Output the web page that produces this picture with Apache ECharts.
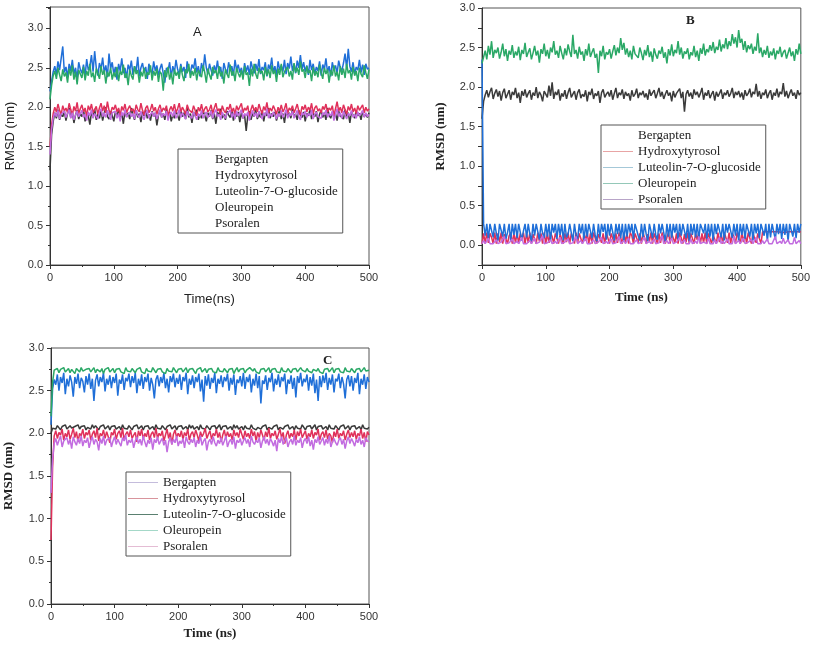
<!DOCTYPE html>
<html>
<head>
  <meta charset="UTF-8">
  <title>RMSD</title>
  <style>
    html, body { margin: 0; padding: 0; background: #fff; }
    #rmsd-chart { width: 813px; height: 648px; }
  </style>
  <script type="text/javascript" src="https://cdn.jsdelivr.net/npm/echarts@6/dist/echarts.min.js"></script>
</head>
<body>
<div id="rmsd-chart"></div>
<script>
  // time axis (ns), one sample every 2.5 ns
  var time = [0,2.5,5,7.5,10,12.5,15,17.5,20,22.5,25,27.5,30,32.5,35,37.5,40,42.5,45,47.5,
    50,52.5,55,57.5,60,62.5,65,67.5,70,72.5,75,77.5,80,82.5,85,87.5,90,92.5,95,97.5,
    100,102.5,105,107.5,110,112.5,115,117.5,120,122.5,125,127.5,130,132.5,135,137.5,140,142.5,145,147.5,
    150,152.5,155,157.5,160,162.5,165,167.5,170,172.5,175,177.5,180,182.5,185,187.5,190,192.5,195,197.5,
    200,202.5,205,207.5,210,212.5,215,217.5,220,222.5,225,227.5,230,232.5,235,237.5,240,242.5,245,247.5,
    250,252.5,255,257.5,260,262.5,265,267.5,270,272.5,275,277.5,280,282.5,285,287.5,290,292.5,295,297.5,
    300,302.5,305,307.5,310,312.5,315,317.5,320,322.5,325,327.5,330,332.5,335,337.5,340,342.5,345,347.5,
    350,352.5,355,357.5,360,362.5,365,367.5,370,372.5,375,377.5,380,382.5,385,387.5,390,392.5,395,397.5,
    400,402.5,405,407.5,410,412.5,415,417.5,420,422.5,425,427.5,430,432.5,435,437.5,440,442.5,445,447.5,
    450,452.5,455,457.5,460,462.5,465,467.5,470,472.5,475,477.5,480,482.5,485,487.5,490,492.5,495,497.5,500];

  var compounds = ['Bergapten', 'Hydroxytyrosol', 'Luteolin-7-O-glucoside', 'Oleuropein', 'Psoralen'];
  var yTicks = [0.0, 0.5, 1.0, 1.5, 2.0, 2.5, 3.0];

  // ---- panel A ----
  var aBergapten = [1.20,1.65,1.82,1.93,1.86,1.97,1.84,1.91,1.88,1.95,
    1.83,1.92,1.99,1.87,1.94,1.80,1.90,1.96,1.85,1.92,
    1.88,1.97,1.82,1.93,1.89,1.78,1.94,1.87,1.98,1.84,
    1.91,1.86,1.96,1.83,1.92,2.00,1.88,1.85,1.95,1.90,
    1.82,1.94,1.89,1.97,1.86,1.92,1.79,1.95,1.88,1.93,
    1.85,1.99,1.90,1.84,1.96,1.87,1.92,1.81,1.94,1.89,
    1.97,1.86,1.91,1.83,1.95,1.88,1.93,1.77,1.90,1.96,
    1.87,1.92,1.84,1.98,1.89,1.94,1.82,1.91,1.86,1.95,
    1.90,1.83,1.96,1.88,1.93,1.85,1.99,1.87,1.92,1.80,
    1.94,1.89,1.97,1.84,1.91,1.86,1.95,1.90,1.82,1.93,
    1.88,1.96,1.85,1.92,1.79,1.94,1.89,1.98,1.86,1.91,
    1.84,1.95,1.90,1.87,1.97,1.83,1.92,1.88,1.94,1.81,
    1.93,1.86,1.90,1.70,1.89,1.95,1.84,1.92,1.88,1.97,
    1.85,1.91,1.87,1.96,1.82,1.93,1.89,1.99,1.86,1.92,
    1.88,1.94,1.83,1.90,1.97,1.85,1.92,1.80,1.95,1.89,
    1.93,1.86,1.98,1.88,1.91,1.84,1.96,1.90,1.87,1.94,
    1.82,1.92,1.89,1.97,1.85,1.93,1.88,1.95,1.81,1.91,
    1.96,1.87,1.93,1.84,1.99,1.90,1.86,1.94,1.88,1.92,
    1.83,1.95,1.89,1.91,1.85,1.97,1.88,1.93,1.80,1.94,
    1.90,1.86,1.96,1.89,1.92,1.84,1.95,1.88,1.91,1.87,1.93];
  var aHydroxytyrosol = [1.50,1.78,1.92,2.00,1.94,2.04,1.96,1.91,2.02,1.95,
    1.99,1.93,2.05,1.97,1.90,2.01,1.95,2.06,1.92,1.98,
    2.03,1.94,1.99,1.88,2.02,1.96,2.04,1.93,1.97,2.01,
    1.91,1.99,2.05,1.95,2.02,1.93,2.07,1.96,1.92,2.00,
    1.97,2.03,1.94,1.99,1.89,2.01,1.96,2.04,1.93,1.98,
    2.02,1.95,1.98,1.92,2.03,1.97,1.94,2.05,1.96,1.90,
    1.99,2.02,1.93,1.97,2.04,1.95,2.00,1.91,1.98,2.03,
    1.94,1.99,1.96,2.02,1.88,1.97,2.01,1.95,2.04,1.93,
    1.98,2.05,1.94,2.00,1.96,1.91,2.03,1.97,1.99,1.93,
    2.02,1.96,1.89,2.00,1.95,2.04,1.93,1.98,2.01,1.94,
    1.97,2.03,1.92,1.99,2.05,1.95,1.98,1.90,2.02,1.96,
    1.93,2.00,1.97,2.04,1.94,1.99,1.91,2.02,1.96,1.98,
    2.05,1.93,1.99,1.96,2.02,1.88,1.97,2.03,1.95,2.00,
    1.94,2.04,1.97,1.92,2.01,1.96,2.06,1.93,1.99,1.95,
    2.02,1.97,1.91,2.00,1.95,2.03,1.94,1.98,2.05,1.92,
    1.99,1.96,2.02,1.93,1.98,2.04,1.95,1.90,2.01,1.97,
    2.03,1.94,2.00,1.96,2.05,1.92,1.99,2.02,1.95,1.98,
    1.93,2.01,1.97,2.04,1.94,1.99,1.96,2.02,1.89,1.98,
    2.07,1.95,2.00,1.93,2.03,1.97,1.91,2.01,1.96,2.04,
    1.94,1.99,1.92,2.02,1.96,1.98,2.03,1.93,2.00,1.95,1.98];
  var aLuteolin = [2.20,2.33,2.45,2.52,2.41,2.58,2.47,2.62,2.77,2.44,
    2.51,2.38,2.55,2.46,2.60,2.42,2.50,2.36,2.57,2.48,
    2.43,2.54,2.39,2.61,2.47,2.52,2.66,2.45,2.71,2.50,
    2.40,2.56,2.48,2.63,2.44,2.53,2.38,2.68,2.49,2.57,
    2.42,2.51,2.35,2.55,2.46,2.62,2.43,2.50,2.37,2.54,
    2.47,2.59,2.41,2.52,2.45,2.64,2.39,2.50,2.56,2.44,
    2.51,2.36,2.55,2.47,2.42,2.58,2.46,2.53,2.40,2.49,
    2.55,2.43,2.31,2.50,2.46,2.57,2.38,2.52,2.44,2.60,
    2.48,2.41,2.55,2.45,2.51,2.37,2.58,2.47,2.43,2.54,
    2.49,2.62,2.44,2.52,2.39,2.56,2.46,2.67,2.50,2.42,
    2.55,2.47,2.40,2.53,2.45,2.59,2.43,2.51,2.36,2.56,
    2.48,2.42,2.57,2.46,2.52,2.40,2.60,2.47,2.54,2.44,
    2.50,2.38,2.56,2.45,2.53,2.41,2.58,2.49,2.43,2.55,
    2.46,2.61,2.42,2.51,2.47,2.57,2.39,2.54,2.48,2.63,
    2.44,2.52,2.40,2.58,2.47,2.53,2.45,2.60,2.42,2.56,
    2.49,2.64,2.46,2.55,2.43,2.59,2.50,2.66,2.48,2.57,
    2.45,2.53,2.41,2.60,2.47,2.55,2.42,2.51,2.46,2.58,
    2.40,2.54,2.48,2.62,2.44,2.52,2.39,2.57,2.47,2.53,
    2.43,2.59,2.50,2.46,2.56,2.68,2.49,2.74,2.52,2.45,
    2.57,2.42,2.51,2.47,2.60,2.44,2.54,2.41,2.55,2.48,2.50];
  var aOleuropein = [2.10,2.28,2.40,2.46,2.36,2.50,2.41,2.33,2.48,2.39,
    2.44,2.31,2.49,2.40,2.53,2.35,2.45,2.29,2.47,2.42,
    2.37,2.51,2.34,2.46,2.40,2.55,2.38,2.44,2.32,2.49,
    2.43,2.36,2.52,2.41,2.47,2.30,2.45,2.39,2.50,2.35,
    2.44,2.38,2.51,2.33,2.46,2.41,2.54,2.37,2.43,2.28,
    2.48,2.40,2.35,2.52,2.42,2.47,2.31,2.45,2.39,2.50,
    2.36,2.44,2.41,2.53,2.34,2.46,2.40,2.49,2.32,2.45,
    2.42,2.21,2.47,2.38,2.51,2.35,2.44,2.29,2.48,2.40,
    2.45,2.36,2.52,2.41,2.33,2.48,2.43,2.55,2.37,2.46,
    2.40,2.50,2.34,2.47,2.42,2.38,2.53,2.44,2.31,2.49,
    2.41,2.35,2.51,2.43,2.47,2.36,2.52,2.39,2.45,2.30,
    2.48,2.42,2.37,2.54,2.40,2.46,2.33,2.50,2.43,2.38,
    2.47,2.35,2.52,2.41,2.44,2.27,2.49,2.39,2.55,2.42,
    2.36,2.50,2.43,2.46,2.34,2.51,2.40,2.48,2.37,2.53,
    2.42,2.47,2.32,2.49,2.41,2.55,2.38,2.45,2.43,2.51,
    2.39,2.46,2.35,2.56,2.44,2.50,2.41,2.58,2.45,2.48,
    2.37,2.52,2.43,2.47,2.33,2.51,2.40,2.46,2.38,2.54,
    2.44,2.36,2.50,2.42,2.48,2.31,2.47,2.40,2.53,2.39,
    2.45,2.34,2.52,2.41,2.49,2.37,2.55,2.43,2.47,2.35,
    2.51,2.40,2.46,2.33,2.50,2.42,2.38,2.53,2.44,2.36,2.48];
  var aPsoralen = [1.40,1.72,1.86,1.93,1.88,1.96,1.85,1.91,1.89,1.95,
    1.87,1.92,1.97,1.86,1.93,1.84,1.90,1.95,1.88,1.92,
    1.96,1.87,1.91,1.83,1.94,1.89,1.97,1.86,1.92,1.90,
    1.85,1.94,1.98,1.88,1.93,1.87,1.96,1.90,1.84,1.93,
    1.91,1.95,1.86,1.92,1.82,1.94,1.89,1.97,1.87,1.91,
    1.94,1.88,1.92,1.85,1.96,1.90,1.87,1.95,1.89,1.84,
    1.92,1.96,1.86,1.91,1.94,1.88,1.93,1.85,1.90,1.97,
    1.87,1.92,1.89,1.95,1.83,1.91,1.94,1.88,1.96,1.86,
    1.90,1.97,1.87,1.93,1.89,1.85,1.95,1.90,1.92,1.86,
    1.94,1.89,1.84,1.92,1.88,1.96,1.86,1.91,1.94,1.87,
    1.90,1.95,1.86,1.93,1.97,1.88,1.91,1.84,1.94,1.89,
    1.86,1.92,1.90,1.96,1.87,1.93,1.85,1.95,1.89,1.91,
    1.97,1.86,1.92,1.89,1.94,1.83,1.90,1.96,1.88,1.93,
    1.87,1.95,1.90,1.85,1.93,1.89,1.98,1.86,1.92,1.88,
    1.94,1.90,1.85,1.92,1.88,1.96,1.87,1.91,1.97,1.86,
    1.92,1.89,1.95,1.86,1.91,1.96,1.88,1.84,1.93,1.90,
    1.95,1.87,1.92,1.89,1.97,1.85,1.91,1.94,1.88,1.90,
    1.86,1.93,1.90,1.96,1.87,1.92,1.89,1.95,1.83,1.91,
    1.98,1.88,1.93,1.86,1.95,1.90,1.85,1.92,1.89,1.96,
    1.87,1.91,1.86,1.94,1.89,1.92,1.96,1.87,1.93,1.88,1.91];

  // ---- panel B ----
  var bBergapten = [1.60,1.82,1.90,1.96,1.87,1.94,1.99,1.85,1.92,1.97,
    1.88,1.95,1.83,1.93,1.98,1.86,1.91,1.96,1.84,1.94,
    1.90,1.99,1.86,1.93,1.80,1.95,1.89,1.97,1.87,1.92,
    1.96,1.84,1.93,1.89,2.00,1.86,1.94,1.90,1.82,1.95,
    1.91,1.87,2.02,1.89,2.06,1.85,1.94,1.90,1.97,1.83,
    1.92,1.88,1.96,1.85,1.93,1.99,1.87,1.91,1.95,1.84,
    1.93,1.97,1.86,1.91,1.88,1.96,1.82,1.94,1.90,1.98,
    1.85,1.92,1.89,1.95,1.80,1.93,1.97,1.87,1.91,1.94,
    1.88,1.96,1.84,1.92,1.99,1.86,1.93,1.90,1.97,1.85,
    1.94,1.89,1.92,1.83,1.96,1.88,1.91,1.98,1.86,1.93,
    1.90,1.95,1.87,1.92,1.84,1.97,1.89,1.93,1.96,1.86,
    1.92,1.99,1.88,1.94,1.85,1.91,1.96,1.89,1.93,1.82,
    1.95,1.87,1.92,1.90,1.98,1.86,1.94,1.69,1.91,1.96,
    1.88,1.93,1.85,1.97,1.90,1.94,1.87,1.92,1.99,1.84,
    1.93,1.89,1.96,1.86,1.91,1.95,1.83,1.94,1.88,1.92,
    1.97,1.85,1.93,1.90,1.96,1.88,1.92,1.99,1.86,1.94,
    1.90,1.95,1.87,1.93,1.84,1.96,1.89,1.92,1.98,1.87,
    1.94,1.91,2.04,1.88,1.95,1.85,1.93,1.90,1.97,1.86,
    1.92,1.96,1.84,1.93,1.89,1.98,1.87,1.94,1.91,2.05,
    1.88,1.95,1.86,1.92,1.97,1.89,1.93,1.85,1.96,1.90,1.93];
  var bHydroxytyrosol = [0.02,0.15,0.02,0.16,0.03,0.15,0.10,0.02,0.16,0.02,
    0.15,0.04,0.16,0.02,0.14,0.15,0.02,0.12,0.16,0.02,
    0.15,0.03,0.16,0.02,0.15,0.08,0.16,0.02,0.15,0.03,
    0.16,0.02,0.14,0.15,0.02,0.16,0.05,0.15,0.02,0.16,
    0.02,0.15,0.03,0.16,0.11,0.02,0.15,0.16,0.02,0.14,
    0.16,0.02,0.15,0.04,0.16,0.02,0.15,0.13,0.02,0.16,
    0.03,0.15,0.16,0.02,0.15,0.06,0.16,0.02,0.15,0.02,
    0.16,0.15,0.02,0.14,0.16,0.03,0.15,0.02,0.16,0.09,
    0.02,0.15,0.16,0.02,0.15,0.03,0.16,0.15,0.02,0.16,
    0.04,0.15,0.02,0.16,0.12,0.02,0.15,0.16,0.03,0.15,
    0.02,0.16,0.15,0.02,0.14,0.05,0.16,0.02,0.15,0.16,
    0.02,0.15,0.03,0.16,0.15,0.02,0.10,0.16,0.02,0.15,
    0.16,0.03,0.15,0.02,0.16,0.15,0.02,0.14,0.04,0.16,
    0.02,0.15,0.16,0.02,0.15,0.07,0.16,0.02,0.15,0.03,
    0.16,0.02,0.15,0.16,0.02,0.13,0.15,0.02,0.16,0.04,
    0.15,0.02,0.16,0.15,0.03,0.16,0.02,0.15,0.11,0.02,
    0.16,0.15,0.02,0.16,0.04,0.15,0.02,0.16,0.15,0.02,
    0.15,0.16,0.03,0.15,0.16,0.02,0.17,0.16,0.17,0.16,
    0.17,0.16,0.17,0.15,0.17,0.16,0.17,0.17,0.16,0.17,
    0.16,0.17,0.17,0.16,0.17,0.15,0.17,0.16,0.17,0.17,0.17];
  var bLuteolin = [2.35,0.27,0.12,0.27,0.08,0.27,0.26,0.10,0.27,0.15,
    0.06,0.27,0.27,0.11,0.27,0.08,0.16,0.27,0.05,0.27,
    0.13,0.27,0.09,0.27,0.27,0.06,0.18,0.27,0.10,0.27,
    0.14,0.05,0.27,0.12,0.27,0.27,0.07,0.27,0.15,0.09,
    0.27,0.11,0.27,0.05,0.27,0.16,0.27,0.08,0.27,0.13,
    0.27,0.06,0.27,0.10,0.14,0.27,0.27,0.05,0.27,0.12,
    0.08,0.27,0.15,0.27,0.06,0.27,0.11,0.27,0.27,0.09,
    0.27,0.13,0.05,0.27,0.10,0.27,0.17,0.27,0.07,0.27,
    0.12,0.27,0.27,0.06,0.27,0.14,0.27,0.09,0.27,0.05,
    0.27,0.11,0.27,0.16,0.27,0.08,0.27,0.27,0.12,0.06,
    0.27,0.10,0.27,0.14,0.05,0.27,0.27,0.09,0.27,0.13,
    0.07,0.27,0.15,0.27,0.27,0.05,0.27,0.11,0.27,0.08,
    0.27,0.16,0.27,0.06,0.27,0.12,0.27,0.27,0.09,0.27,
    0.05,0.27,0.13,0.27,0.10,0.27,0.07,0.27,0.27,0.15,
    0.27,0.08,0.27,0.11,0.27,0.05,0.27,0.14,0.27,0.27,
    0.10,0.27,0.06,0.27,0.16,0.27,0.27,0.09,0.27,0.12,
    0.27,0.05,0.27,0.13,0.27,0.08,0.27,0.27,0.11,0.27,
    0.06,0.27,0.15,0.27,0.09,0.27,0.27,0.12,0.27,0.05,
    0.27,0.10,0.27,0.27,0.07,0.27,0.14,0.27,0.08,0.27,
    0.13,0.27,0.05,0.27,0.27,0.11,0.27,0.09,0.27,0.16,0.27];
  var bOleuropein = [2.30,2.38,2.46,2.35,2.52,2.41,2.58,2.37,2.47,2.43,
    2.50,2.36,2.44,2.55,2.39,2.48,2.33,2.46,2.41,2.53,
    2.37,2.45,2.40,2.51,2.34,2.47,2.42,2.56,2.38,2.44,
    2.49,2.35,2.43,2.52,2.40,2.46,2.31,2.48,2.42,2.55,
    2.39,2.47,2.36,2.50,2.44,2.58,2.41,2.46,2.37,2.52,
    2.43,2.35,2.49,2.40,2.54,2.45,2.38,2.66,2.42,2.47,
    2.36,2.51,2.41,2.45,2.33,2.48,2.40,2.55,2.38,2.44,
    2.49,2.37,2.42,2.18,2.46,2.39,2.52,2.35,2.44,2.41,
    2.48,2.36,2.45,2.53,2.40,2.50,2.43,2.62,2.47,2.56,
    2.41,2.49,2.38,2.46,2.35,2.52,2.42,2.44,2.37,2.50,
    2.43,2.34,2.47,2.40,2.53,2.38,2.45,2.32,2.49,2.41,
    2.36,2.46,2.42,2.51,2.37,2.44,2.30,2.48,2.40,2.54,
    2.39,2.47,2.43,2.58,2.41,2.50,2.36,2.45,2.42,2.49,
    2.35,2.44,2.40,2.52,2.38,2.46,2.33,2.49,2.42,2.55,
    2.40,2.48,2.44,2.53,2.46,2.57,2.43,2.51,2.47,2.60,
    2.45,2.54,2.49,2.62,2.48,2.58,2.52,2.67,2.55,2.63,
    2.50,2.72,2.56,2.61,2.47,2.58,2.44,2.53,2.48,2.55,
    2.42,2.51,2.46,2.68,2.43,2.50,2.38,2.47,2.41,2.52,
    2.37,2.45,2.40,2.49,2.35,2.46,2.42,2.51,2.38,2.44,
    2.47,2.36,2.43,2.50,2.39,2.45,2.33,2.48,2.41,2.55,2.42];
  var bPsoralen = [0.02,0.06,0.02,0.02,0.09,0.02,0.03,0.02,0.02,0.07,
    0.02,0.02,0.04,0.02,0.11,0.02,0.02,0.03,0.02,0.08,
    0.02,0.02,0.05,0.02,0.02,0.10,0.02,0.03,0.02,0.02,
    0.06,0.02,0.02,0.09,0.02,0.02,0.04,0.02,0.12,0.02,
    0.02,0.03,0.02,0.07,0.02,0.02,0.05,0.02,0.02,0.10,
    0.02,0.02,0.04,0.02,0.08,0.02,0.02,0.03,0.02,0.11,
    0.02,0.02,0.06,0.02,0.02,0.09,0.02,0.03,0.02,0.02,
    0.07,0.02,0.02,0.04,0.02,0.10,0.02,0.02,0.05,0.02,
    0.02,0.08,0.02,0.02,0.03,0.02,0.11,0.02,0.02,0.06,
    0.02,0.02,0.09,0.02,0.03,0.02,0.02,0.07,0.02,0.02,
    0.04,0.02,0.10,0.02,0.02,0.05,0.02,0.02,0.08,0.02,
    0.02,0.03,0.02,0.12,0.02,0.02,0.06,0.02,0.02,0.09,
    0.02,0.02,0.04,0.02,0.10,0.02,0.02,0.07,0.02,0.03,
    0.02,0.08,0.02,0.02,0.05,0.02,0.11,0.02,0.02,0.04,
    0.02,0.02,0.09,0.02,0.03,0.02,0.07,0.02,0.02,0.10,
    0.02,0.05,0.02,0.02,0.08,0.02,0.03,0.02,0.11,0.02,
    0.02,0.06,0.02,0.02,0.09,0.02,0.02,0.04,0.02,0.07,
    0.02,0.02,0.10,0.02,0.03,0.02,0.06,0.02,0.02,0.08,
    0.02,0.04,0.02,0.02,0.11,0.02,0.02,0.05,0.02,0.09,
    0.02,0.02,0.07,0.02,0.03,0.02,0.10,0.02,0.02,0.06,0.02];

  // ---- panel C ----
  var cBergapten = [2.00,2.06,2.08,2.05,2.09,2.07,2.04,2.08,2.06,2.10,
    2.05,2.07,2.09,2.06,2.04,2.08,2.07,2.10,2.05,2.08,
    2.06,2.09,2.04,2.07,2.08,2.05,2.10,2.06,2.09,2.07,
    2.04,2.08,2.06,2.10,2.05,2.07,2.09,2.04,2.08,2.06,
    2.09,2.05,2.07,2.08,2.04,2.10,2.06,2.08,2.05,2.09,
    2.07,2.04,2.08,2.06,2.10,2.05,2.07,2.09,2.04,2.08,
    2.06,2.09,2.05,2.07,2.08,2.04,2.10,2.06,2.08,2.05,
    2.09,2.07,2.04,2.08,2.06,2.10,2.05,2.07,2.09,2.04,
    2.08,2.06,2.09,2.05,2.07,2.08,2.04,2.10,2.06,2.09,
    2.05,2.07,2.08,2.04,2.10,2.06,2.08,2.05,2.09,2.07,
    2.04,2.08,2.06,2.09,2.05,2.07,2.10,2.04,2.08,2.06,
    2.09,2.05,2.07,2.08,2.04,2.10,2.06,2.09,2.05,2.07,
    2.08,2.04,2.09,2.06,2.07,2.05,2.10,2.06,2.08,2.04,
    2.07,2.09,2.05,2.08,2.06,2.10,2.04,2.07,2.09,2.05,
    2.08,2.06,2.10,2.04,2.07,2.09,2.05,2.08,2.06,2.10,
    2.05,2.07,2.08,2.04,2.09,2.06,2.08,2.05,2.10,2.07,
    2.04,2.08,2.06,2.09,2.05,2.07,2.10,2.04,2.08,2.06,
    2.09,2.05,2.07,2.08,2.04,2.10,2.06,2.08,2.05,2.09,
    2.07,2.04,2.08,2.06,2.10,2.05,2.07,2.09,2.04,2.08,
    2.06,2.09,2.05,2.07,2.08,2.04,2.10,2.06,2.08,2.05,2.07];
  var cHydroxytyrosol = [0.75,1.60,1.97,2.03,1.94,2.01,1.98,2.05,1.92,2.00,
    1.96,2.04,1.93,1.99,2.06,1.95,2.02,1.90,2.00,1.97,
    2.05,1.94,2.01,1.98,2.04,1.92,1.99,2.03,1.95,2.06,
    1.91,2.00,1.97,2.04,1.94,2.02,1.96,1.89,2.01,1.98,
    2.05,1.93,2.00,2.03,1.95,2.06,1.92,1.99,2.02,1.96,
    2.04,1.94,1.98,2.01,1.90,2.03,1.97,2.05,1.93,2.00,
    1.96,2.04,1.92,1.99,2.02,1.95,2.06,1.94,2.00,1.97,
    2.03,1.91,1.98,2.05,1.94,2.01,1.87,1.99,2.04,1.95,
    2.00,1.96,2.03,1.93,2.01,1.97,2.05,1.92,1.99,2.02,
    1.95,2.04,1.98,1.91,2.02,1.96,2.00,2.06,1.94,1.99,
    2.03,1.93,2.00,1.97,2.05,1.95,2.01,1.90,1.98,2.04,
    1.94,2.02,1.96,2.00,1.92,2.04,1.97,2.01,1.95,2.05,
    1.99,1.93,2.03,1.96,2.00,1.94,2.05,1.97,2.02,1.91,
    2.01,1.95,2.04,1.98,1.92,2.02,1.96,2.06,1.94,2.00,
    1.97,2.03,1.93,1.99,2.05,1.95,2.01,1.88,1.98,2.03,
    1.94,2.00,1.96,2.04,1.92,2.02,1.97,2.05,1.95,1.99,
    2.03,1.93,2.00,1.96,2.04,1.94,2.01,1.98,2.05,1.92,
    1.99,2.02,1.95,2.04,1.93,2.00,1.97,1.89,2.02,1.96,
    2.05,1.94,2.00,1.97,2.03,1.92,1.99,2.04,1.95,2.01,
    1.96,2.03,1.93,2.00,1.97,2.05,1.94,2.01,1.90,2.02,1.98];
  var cLuteolin = [2.10,2.52,2.63,2.57,2.69,2.50,2.66,2.59,2.71,2.46,
    2.64,2.55,2.68,2.60,2.43,2.66,2.58,2.70,2.53,2.65,
    2.61,2.48,2.67,2.57,2.70,2.52,2.64,2.38,2.62,2.69,
    2.55,2.66,2.60,2.71,2.49,2.64,2.57,2.68,2.53,2.66,
    2.59,2.70,2.44,2.63,2.58,2.69,2.51,2.65,2.61,2.70,
    2.54,2.67,2.59,2.71,2.47,2.64,2.56,2.69,2.52,2.66,
    2.60,2.70,2.50,2.65,2.57,2.41,2.63,2.68,2.55,2.66,
    2.59,2.71,2.53,2.64,2.48,2.67,2.60,2.70,2.54,2.65,
    2.58,2.69,2.51,2.66,2.61,2.71,2.46,2.64,2.57,2.68,
    2.53,2.66,2.60,2.70,2.49,2.63,2.37,2.67,2.56,2.69,
    2.52,2.65,2.59,2.71,2.47,2.64,2.58,2.68,2.54,2.66,
    2.61,2.70,2.50,2.65,2.57,2.69,2.45,2.63,2.59,2.67,
    2.55,2.71,2.52,2.66,2.60,2.69,2.48,2.64,2.56,2.70,
    2.53,2.67,2.35,2.62,2.58,2.68,2.51,2.65,2.60,2.71,
    2.49,2.64,2.57,2.69,2.54,2.66,2.61,2.70,2.46,2.63,
    2.58,2.68,2.52,2.65,2.42,2.67,2.59,2.71,2.55,2.64,
    2.60,2.69,2.50,2.66,2.56,2.70,2.47,2.63,2.38,2.67,
    2.54,2.68,2.59,2.71,2.51,2.65,2.57,2.69,2.48,2.64,
    2.61,2.70,2.53,2.66,2.58,2.41,2.63,2.68,2.55,2.67,
    2.50,2.65,2.59,2.71,2.46,2.64,2.57,2.69,2.52,2.66,2.60];
  var cOleuropein = [2.20,2.60,2.74,2.72,2.76,2.71,2.75,2.73,2.77,2.72,
    2.74,2.76,2.71,2.75,2.73,2.70,2.76,2.74,2.72,2.77,
    2.73,2.71,2.75,2.74,2.76,2.72,2.73,2.77,2.71,2.75,
    2.74,2.72,2.76,2.70,2.75,2.73,2.77,2.72,2.74,2.76,
    2.71,2.75,2.73,2.76,2.72,2.74,2.70,2.77,2.73,2.75,
    2.72,2.76,2.74,2.71,2.75,2.73,2.77,2.72,2.74,2.70,
    2.76,2.73,2.75,2.72,2.77,2.74,2.71,2.75,2.73,2.76,
    2.72,2.74,2.70,2.76,2.73,2.75,2.72,2.77,2.74,2.71,
    2.75,2.73,2.76,2.72,2.74,2.77,2.71,2.75,2.73,2.76,
    2.74,2.70,2.75,2.73,2.77,2.72,2.74,2.76,2.71,2.75,
    2.73,2.76,2.72,2.74,2.71,2.77,2.73,2.75,2.72,2.76,
    2.74,2.71,2.75,2.73,2.76,2.70,2.74,2.77,2.72,2.75,
    2.73,2.76,2.71,2.74,2.72,2.77,2.75,2.73,2.76,2.72,
    2.74,2.70,2.75,2.73,2.76,2.72,2.74,2.77,2.71,2.75,
    2.73,2.76,2.72,2.74,2.71,2.77,2.73,2.75,2.72,2.76,
    2.74,2.71,2.75,2.73,2.76,2.72,2.70,2.77,2.74,2.75,
    2.72,2.76,2.73,2.74,2.71,2.75,2.77,2.73,2.76,2.72,
    2.74,2.70,2.75,2.73,2.76,2.72,2.74,2.77,2.71,2.75,
    2.73,2.76,2.72,2.74,2.71,2.77,2.73,2.75,2.72,2.76,
    2.74,2.71,2.75,2.73,2.76,2.72,2.74,2.77,2.73,2.75,2.74];
  var cPsoralen = [1.30,1.70,1.88,1.94,1.86,1.92,1.97,1.84,1.91,1.89,
    1.95,1.87,1.93,1.82,1.96,1.90,1.86,1.94,1.88,1.97,
    1.85,1.92,1.89,1.95,1.83,1.91,1.96,1.87,1.93,1.90,
    1.80,1.94,1.88,1.97,1.86,1.92,1.90,1.95,1.84,1.91,
    1.96,1.87,1.93,1.89,1.85,1.95,1.91,1.98,1.86,1.92,
    1.89,1.94,1.83,1.91,1.96,1.88,1.93,1.86,1.97,1.90,
    1.84,1.92,1.88,1.95,1.81,1.93,1.89,1.96,1.87,1.91,
    1.94,1.86,1.92,1.78,1.90,1.95,1.87,1.93,1.89,1.97,
    1.85,1.91,1.88,1.94,1.83,1.96,1.90,1.87,1.93,1.89,
    1.95,1.84,1.92,1.88,1.97,1.86,1.91,1.94,1.80,1.90,
    1.93,1.87,1.96,1.89,1.85,1.92,1.88,1.95,1.86,1.91,
    1.97,1.84,1.90,1.93,1.87,1.96,1.82,1.92,1.89,1.94,
    1.86,1.91,1.95,1.88,1.93,1.84,1.97,1.90,1.87,1.92,
    1.89,1.95,1.83,1.91,1.96,1.88,1.93,1.86,1.94,1.90,
    1.85,1.92,1.79,1.94,1.89,1.96,1.87,1.91,1.95,1.84,
    1.90,1.93,1.87,1.97,1.86,1.92,1.89,1.95,1.83,1.91,
    1.94,1.88,1.96,1.85,1.92,1.81,1.93,1.89,1.96,1.87,
    1.91,1.95,1.86,1.93,1.88,1.97,1.84,1.90,1.94,1.89,
    1.86,1.92,1.95,1.87,1.93,1.82,1.91,1.96,1.88,1.94,
    1.90,1.85,1.93,1.89,1.96,1.87,1.92,1.84,1.95,1.91,1.90];

  var lineColors = ['#3a3a3a', '#e0305a', '#1f6fd8', '#2aa866', '#c26ce0'];
  var SANS = 'Liberation Sans, Arial, sans-serif';
  var SERIF = 'Liberation Serif, Times New Roman, serif';

  function pairs(vals) {
    return time.map(function (t, i) { return [t, vals[i]]; });
  }

  function yLabel(v) {
    for (var i = 0; i < yTicks.length; i++) {
      if (Math.abs(v - yTicks[i]) < 1e-6) return yTicks[i].toFixed(1);
    }
    return '';
  }

  function xAx(idx, nameFont, nameWeight, nameText, gap) {
    return {
      type: 'value', gridIndex: idx, min: 0, max: 500, interval: 100,
      name: nameText, nameLocation: 'middle', nameGap: gap,
      nameTextStyle: { fontFamily: nameFont, fontWeight: nameWeight, fontSize: 13, color: '#222' },
      axisLine: { show: true, onZero: false, lineStyle: { color: '#333', width: 1 } },
      axisTick: { show: true, length: 4, lineStyle: { color: '#333' } },
      minorTick: { show: true, splitNumber: 2, length: 2, lineStyle: { color: '#333' } },
      axisLabel: { fontFamily: SANS, fontSize: 11, color: '#333', margin: 7 },
      splitLine: { show: false }
    };
  }

  function yAx(idx, min, max, interval, nameFont, nameWeight, gap, minor) {
    return {
      type: 'value', gridIndex: idx, min: min, max: max, interval: interval,
      name: 'RMSD (nm)', nameLocation: 'middle', nameGap: gap,
      nameTextStyle: { fontFamily: nameFont, fontWeight: nameWeight, fontSize: 13, color: '#222' },
      axisLine: { show: true, onZero: false, lineStyle: { color: '#333', width: 1 } },
      axisTick: { show: true, length: 4, lineStyle: { color: '#333' } },
      minorTick: { show: minor, splitNumber: 2, length: 2, lineStyle: { color: '#333' } },
      axisLabel: { fontFamily: SANS, fontSize: 11, color: '#333', margin: 7, formatter: yLabel },
      splitLine: { show: false }
    };
  }

  function legendFor(left, top, colors) {
    return {
      orient: 'vertical', left: left, top: top,
      borderColor: '#555', borderWidth: 1, padding: [4, 5, 3, 2],
      itemGap: 3, itemWidth: 30, itemHeight: 1, icon: 'rect',
      textStyle: { fontFamily: SERIF, fontSize: 13, color: '#222' },
      selectedMode: false,
      data: compounds.map(function (n, i) {
        return {
          name: n,
          itemStyle: { color: colors[i], borderWidth: 0 },
          lineStyle: { color: colors[i], width: 1 }
        };
      })
    };
  }

  function panelSeries(idx, valueSets) {
    return valueSets.map(function (vals, i) {
      return {
        name: compounds[i], type: 'line', xAxisIndex: idx, yAxisIndex: idx,
        showSymbol: false, symbol: 'none', sampling: null,
        lineStyle: { width: 1.5, color: lineColors[i] },
        itemStyle: { color: lineColors[i] },
        data: pairs(vals)
      };
    });
  }

  var myChart = echarts.init(document.getElementById('rmsd-chart'), null, { renderer: 'canvas' });

  var option = {
    animation: false,
    backgroundColor: '#fff',
    title: [
      { text: 'A', left: 188, top: 21, textStyle: { fontFamily: SANS, fontWeight: 'normal', fontSize: 13, color: '#222' } },
      { text: 'B', left: 681, top: 9, textStyle: { fontFamily: SERIF, fontWeight: 'bold', fontSize: 13, color: '#222' } },
      { text: 'C', left: 318, top: 349, textStyle: { fontFamily: SERIF, fontWeight: 'bold', fontSize: 13, color: '#222' } }
    ],
    legend: [
      legendFor(178, 149, ['#fff', '#fff', '#fff', '#fff', '#fff']),
      legendFor(601, 125, ['#fff', '#e8a4a4', '#a4c8d8', '#94c8b8', '#b8a4c8']),
      legendFor(126, 472, ['#c4bcdc', '#d8949c', '#5a8070', '#a4d8c8', '#e4bcd4'])
    ],
    grid: [
      { left: 50, top: 7, width: 319, height: 258, show: true, borderColor: '#555', borderWidth: 1, backgroundColor: 'transparent' },
      { left: 482, top: 8, width: 319, height: 257, show: true, borderColor: '#555', borderWidth: 1, backgroundColor: 'transparent' },
      { left: 51, top: 348, width: 318, height: 256, show: true, borderColor: '#555', borderWidth: 1, backgroundColor: 'transparent' }
    ],
    xAxis: [
      xAx(0, SANS, 'normal', 'Time(ns)', 28),
      xAx(1, SERIF, 'bold', 'Time (ns)', 26),
      xAx(2, SERIF, 'bold', 'Time (ns)', 23)
    ],
    yAxis: [
      yAx(0, 0, 3.27, 0.5, SANS, 'normal', 33, true),
      yAx(1, -0.25, 3.0, 0.25, SERIF, 'bold', 35, false),
      yAx(2, 0, 3.0, 0.5, SERIF, 'bold', 36, true)
    ],
    series: [].concat(
      panelSeries(0, [aBergapten, aHydroxytyrosol, aLuteolin, aOleuropein, aPsoralen]),
      panelSeries(1, [bBergapten, bHydroxytyrosol, bLuteolin, bOleuropein, bPsoralen]),
      panelSeries(2, [cBergapten, cHydroxytyrosol, cLuteolin, cOleuropein, cPsoralen])
    )
  };

  myChart.setOption(option);
</script>
</body>
</html>
